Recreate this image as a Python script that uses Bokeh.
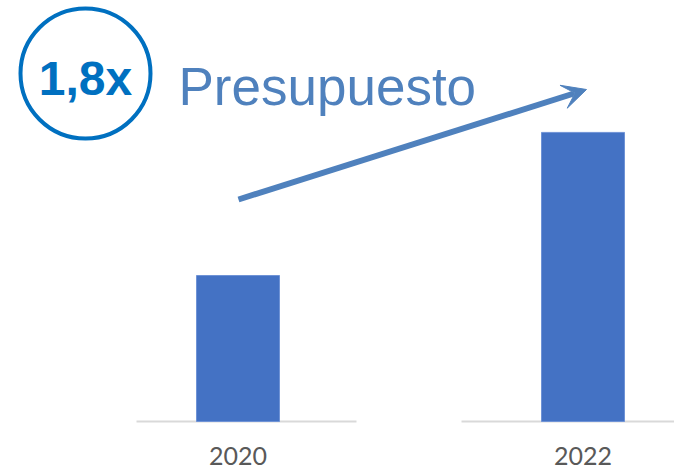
from bokeh.plotting import figure
from bokeh.models import Range1d, Arrow, VeeHead, ColumnDataSource
from bokeh.core.properties import value
from bokeh.embed import file_html
from bokeh.resources import INLINE

# ---- data ----
years = ["2020", "2022"]
budget = [100, 198]          # relative budget (2020 = 100)
multiplier_label = "1,8x"
title_text = "Presupuesto"

W, H = 674, 472
xpos = [0, 1]
PX_PER_X = 345.0
X0_PX = 237.5
PX_PER_Y = 1.46
BASE_PX = 51.0  # baseline distance from bottom

def dx(px):
    return (px - X0_PX) / PX_PER_X

def dy(px_from_top):
    return (H - px_from_top - BASE_PX) / PX_PER_Y

p = figure(width=W, height=H, output_backend="svg", toolbar_location=None,
           x_range=Range1d(dx(0), dx(W)), y_range=Range1d(dy(H), dy(0)),
           min_border=0, outline_line_color=None)
p.axis.visible = False
p.grid.visible = False
p.background_fill_color = "white"
p.border_fill_color = "white"

src = ColumnDataSource(dict(x=xpos, top=budget, year=years))

# baseline segments
p.segment(x0=[xpos[0] - 101.5 / PX_PER_X, xpos[1] - 121.5 / PX_PER_X],
          x1=[xpos[0] + 118.5 / PX_PER_X, xpos[1] + 130 / PX_PER_X],
          y0=[0, 0], y1=[0, 0], line_color="#D9D9D9", line_width=2)

p.vbar(x="x", top="top", bottom=0, width=83 / PX_PER_X, source=src,
       fill_color="#4472C4", line_color="#6f93d6", line_width=1)

p.text(x="x", y=0, text="year", source=src, text_align="center",
       text_baseline="top", y_offset=25, text_color="#595959",
       text_font=value("Lato"), text_font_size="25px")

# circle badge
p.scatter(x=[dx(85)], y=[dy(73)], size=130, marker="circle",
          fill_color=None, line_color="#0070C0", line_width=4)
p.text(x=[dx(85)], y=[dy(78)], text=[multiplier_label], text_align="center",
       text_baseline="middle", text_color="#0070C0", text_font_style="bold",
       text_font=value("Liberation Sans"), text_font_size="48px")

p.text(x=[dx(178)], y=[dy(86)], text=[title_text], text_align="left",
       text_baseline="alphabetic", text_color="#4F81BD",
       text_font=value("Liberation Sans"), text_font_size="53px")

p.add_layout(Arrow(end=VeeHead(size=24, fill_color="#4F81BD", line_color="#4F81BD"),
                   x_start=dx(238), y_start=dy(199), x_end=dx(586), y_end=dy(89),
                   line_color="#4F81BD", line_width=6))

open("out.html", "w").write(file_html(p, INLINE))
